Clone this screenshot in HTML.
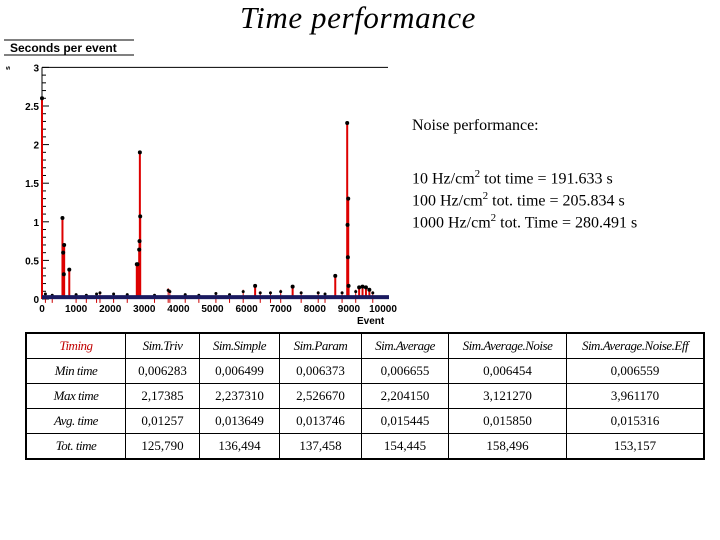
<!DOCTYPE html>
<html><head><meta charset="utf-8"><style>
body{margin:0;width:720px;height:540px;background:#fff;position:relative;overflow:hidden;font-family:"Liberation Serif",serif}
.t{position:absolute;white-space:nowrap}
table{position:absolute;left:25px;top:332px;border-collapse:collapse;border:2px solid #000}
td{border:1px solid #000;text-align:center;font-size:13px;padding:0;height:24px;font-family:"Liberation Serif",serif;line-height:14px}
td.h{font-style:italic;letter-spacing:-0.5px}
</style></head><body>
<div class="t" style="left:240px;top:0px;font-size:31px;font-style:italic;letter-spacing:0.6px">Time performance</div>
<div class="t" style="left:412px;top:117px;font-size:16px">Noise performance:</div>
<div class="t" style="left:412px;top:168px;font-size:16px">10 Hz/cm<sup style="font-size:11px">2</sup> tot time = 191.633 s</div>
<div class="t" style="left:412px;top:190px;font-size:16px">100 Hz/cm<sup style="font-size:11px">2</sup> tot. time = 205.834 s</div>
<div class="t" style="left:412px;top:212px;font-size:16px">1000 Hz/cm<sup style="font-size:11px">2</sup> tot. Time = 280.491 s</div>
<svg id="chart" width="720" height="330" style="position:absolute;left:0;top:0" font-family="Liberation Sans, sans-serif">
<line x1="4" y1="40" x2="134" y2="40" stroke="#000"/>
<line x1="4" y1="55" x2="134" y2="55" stroke="#000"/>
<text x="10" y="52" font-size="12" font-weight="bold">Seconds per event</text>
<text x="8" y="72" font-size="7" font-weight="bold" transform="rotate(-90 8 70)">s</text>
<text x="357" y="324" font-size="10" font-weight="bold">Event</text>
<g id="axes"></g><g id="marks"></g>
</svg>
<table>
<tr><td class="h" style="width:98px;color:#c00000">Timing</td><td class="h" style="width:73px">Sim.Triv</td><td class="h" style="width:79px">Sim.Simple</td><td class="h" style="width:81px">Sim.Param</td><td class="h" style="width:86px">Sim.Average</td><td class="h" style="width:117px">Sim.Average.Noise</td><td class="h" style="width:136px">Sim.Average.Noise.Eff</td></tr>
<tr><td class="h">Min time</td><td>0,006283</td><td>0,006499</td><td>0,006373</td><td>0,006655</td><td>0,006454</td><td>0,006559</td></tr>
<tr><td class="h">Max time</td><td>2,17385</td><td>2,237310</td><td>2,526670</td><td>2,204150</td><td>3,121270</td><td>3,961170</td></tr>
<tr><td class="h" style="height:20px">Avg. time</td><td>0,01257</td><td>0,013649</td><td>0,013746</td><td>0,015445</td><td>0,015850</td><td>0,015316</td></tr>
<tr><td class="h" style="height:20px">Tot. time</td><td>125,790</td><td>136,494</td><td>137,458</td><td>154,445</td><td>158,496</td><td>153,157</td></tr>
</table>
<script>
const xTicks=[0,1000,2000,3000,4000,5000,6000,7000,8000,9000,10000];
const yTicks=[0,0.5,1,1.5,2,2.5,3];
const peakEvents=[0,600,620,640,650,800,2780,2800,2850,2860,2870,2880,6250,7350,8600,8950,8960,8970,8980,8990,9300,9400,9500,9600];
const peakValues=[2.6,1.05,0.6,0.32,0.7,0.38,0.45,0.45,0.64,0.75,1.9,1.07,0.17,0.16,0.3,2.28,0.96,0.54,1.3,0.17,0.15,0.16,0.15,0.12];
const noiseEvents=[100,300,1000,1300,1600,1700,2100,2500,3300,3700,3750,4200,4600,5100,5500,5900,6400,6700,7000,7600,8100,8300,8800,9200,9700];
const noiseValues=[0.08,0.06,0.07,0.06,0.08,0.1,0.08,0.07,0.06,0.14,0.12,0.07,0.06,0.09,0.07,0.12,0.1,0.1,0.12,0.1,0.1,0.08,0.1,0.12,0.1];
const X=v=>42+v*0.0341, Y=v=>299-v*77.2;
const ns="http://www.w3.org/2000/svg";
const ax=document.getElementById('axes'), mk=document.getElementById('marks');
function el(t,a,p){const e=document.createElementNS(ns,t);for(const k in a)e.setAttribute(k,a[k]);p.appendChild(e);return e;}
let l=el('line',{x1:42,y1:Y(3),x2:42,y2:Y(0),stroke:'#000'},ax);


l=el('line',{x1:42,y1:Y(3),x2:388,y2:Y(3),stroke:'#000'},ax);


for(let i=0;i<=30;i++){const v=i*0.1;el('line',{x1:42,y1:Y(v),x2:i%5==0?49:46,y2:Y(v),stroke:'#000'},ax);}
yTicks.forEach(v=>{const t=el('text',{x:39,y:Y(v)+4,'font-size':10,'font-weight':'bold','text-anchor':'end'},ax);t.textContent=String(v);

});
xTicks.forEach(v=>{const t=el('text',{x:X(v),y:312,'font-size':10,'font-weight':'bold','text-anchor':'middle'},ax);t.textContent=String(v);

});
noiseEvents.forEach((e,i)=>{const b=el('line',{x1:X(e),x2:X(e),y1:Y(noiseValues[i]),y2:Y(-0.05),stroke:'#c00','stroke-width':1},mk);


const d=el('circle',{cx:X(e),cy:Y(noiseValues[i]*0.8),r:1.5,fill:'#000'},mk);

});
peakEvents.forEach((e,i)=>{const b=el('rect',{x:X(e)-1,width:2,y:Y(peakValues[i]),height:Y(0)-Y(peakValues[i]),fill:'#d00'},mk);

});
peakEvents.forEach((e,i)=>{const d=el('circle',{cx:X(e),cy:Y(peakValues[i]),r:2,fill:'#000'},mk);

});
const band=el('rect',{x:42,y:Y(0.05),width:X(10000)-42+6,height:4,fill:'#1a1a60'},mk);


</script>
</body></html>
